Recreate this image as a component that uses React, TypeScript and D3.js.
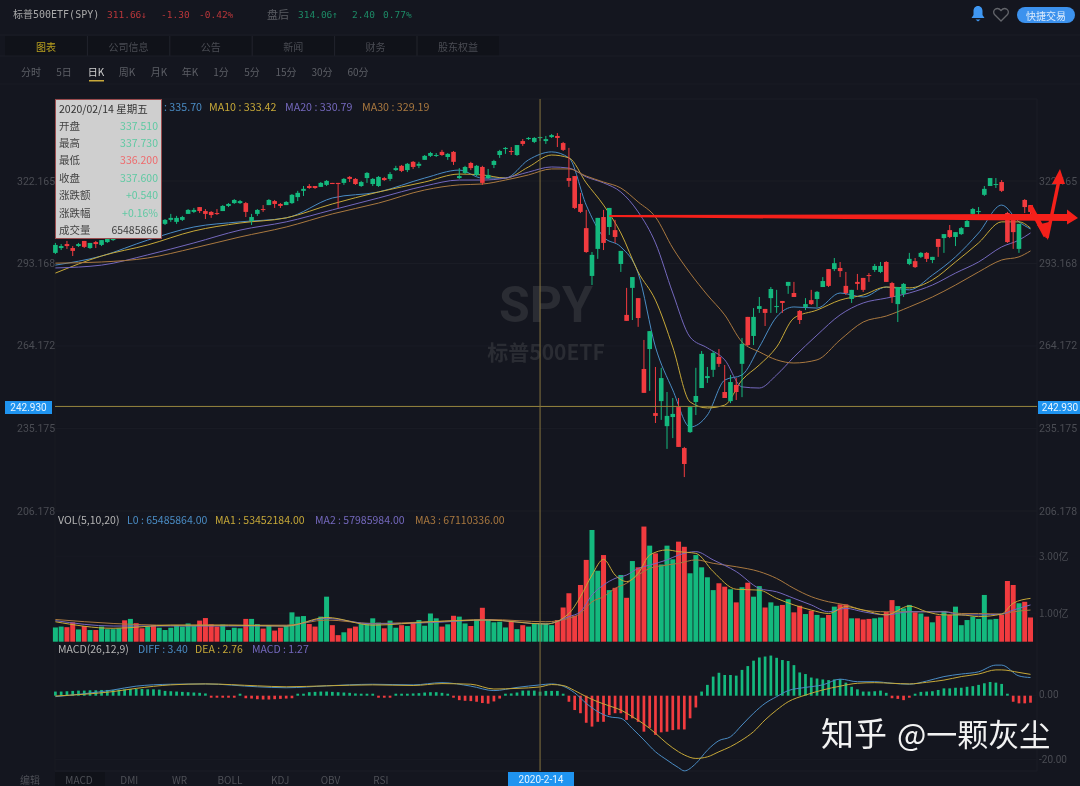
import * as d3 from 'd3';

const opens = [
  296.9,298.6,300.0,298.6,299.3,301.1,298.6,300.7,299.7,300.7,
  301.4,302.1,304.6,303.5,305.6,305.3,304.6,306.7,305.6,307.1,
  308.5,307.8,308.5,310.6,311.3,313.0,311.6,311.3,310.9,311.6,
  313.4,314.4,314.4,314.4,308.1,310.6,312.3,313.7,315.1,314.1,
  313.7,314.4,316.5,318.7,320.4,320.4,320.1,320.8,321.5,321.5,
  321.5,323.6,322.9,320.4,323.2,321.1,320.4,323.2,322.9,326.0,
  327.5,326.0,328.9,327.5,329.6,331.0,331.0,332.4,330.6,332.4,
  323.2,325.0,328.5,324.3,327.1,323.2,327.8,331.3,333.4,332.7,
  331.3,336.2,336.9,335.9,337.51,336.2,337.6,338.0,335.5,323.2,
  323.9,314.1,305.6,288.8,298.3,309.5,306.0,304.9,293.0,275.1,
  284.6,281.0,256.1,263.1,240.6,244.8,236.0,239.2,242.7,228.3,
  233.9,244.5,249.4,252.9,255.8,260.3,248.0,244.8,250.5,257.9,
  274.4,267.7,277.2,277.2,281.0,277.9,280.0,285.3,282.8,276.5,
  277.9,280.3,280.7,284.9,291.2,291.2,291.6,285.3,280.7,286.7,
  288.1,289.1,290.9,290.2,293.7,286.3,278.9,282.5,293.0,294.0,
  295.5,296.9,294.4,301.8,302.1,304.9,302.5,303.5,306.0,310.6,
  311.3,317.3,320.4,320.8,321.8,310.9,308.5,298.3,315.5,313.7,
];
const highs = [
  300.4,300.0,301.1,299.3,300.4,301.1,300.4,301.1,301.4,302.8,
  303.2,304.2,304.9,305.3,305.9,305.6,306.4,307.1,307.4,308.8,
  310.6,309.9,309.9,312.3,312.7,313.0,312.3,311.6,312.3,313.7,
  314.4,315.8,315.5,314.8,310.6,312.3,313.7,315.8,315.5,314.4,
  315.1,317.6,318.7,320.4,321.1,320.4,321.8,322.5,321.5,321.5,
  323.2,323.9,323.2,322.2,325.3,323.2,323.9,323.6,325.3,327.5,
  327.8,328.5,329.2,328.9,331.3,332.4,332.0,333.1,332.0,332.7,
  326.7,327.5,328.9,327.8,327.5,326.4,329.6,333.1,334.1,334.1,
  334.8,336.9,337.6,337.6,337.73,338.0,338.7,339.0,335.9,333.8,
  323.9,318.0,312.0,297.2,309.2,312.0,312.7,308.5,297.6,284.6,
  288.4,281.0,266.3,269.4,256.8,256.5,248.0,245.9,245.9,228.7,
  242.7,256.5,262.4,256.8,262.4,263.1,257.5,254.0,252.9,267.0,
  274.4,277.5,281.4,277.2,284.9,283.9,280.0,286.7,286.7,276.8,
  281.0,283.9,283.5,288.4,291.2,295.1,293.7,290.2,283.9,289.5,
  288.1,289.8,293.0,293.7,294.0,286.7,284.9,286.3,296.9,295.1,
  297.2,297.2,295.5,301.8,303.5,306.7,304.2,306.0,308.5,312.7,
  313.0,320.4,323.2,323.2,322.5,311.3,309.5,307.1,315.8,313.7,
];
const lows = [
  296.5,297.9,298.3,295.8,299.0,298.6,298.3,298.6,299.3,300.4,
  301.1,301.8,302.8,303.2,303.9,303.5,304.2,305.0,305.3,306.7,
  307.8,307.1,308.1,310.6,310.9,310.9,308.8,309.2,310.2,311.6,
  313.0,314.1,314.1,309.5,306.7,309.9,311.3,313.7,312.7,312.7,
  313.7,314.1,315.1,316.9,319.4,319.4,320.1,320.4,321.1,312.7,
  320.8,321.8,320.8,320.1,321.5,320.4,320.1,322.2,322.2,325.7,
  325.3,325.3,326.4,326.7,329.6,330.6,330.6,331.0,329.6,327.8,
  322.9,324.6,326.0,323.9,320.8,322.9,326.7,330.3,331.7,331.3,
  331.0,334.5,336.6,335.5,336.2,335.2,337.3,334.1,332.7,320.1,
  312.3,310.9,296.9,285.6,294.8,297.9,303.2,300.4,290.2,273.0,
  273.3,270.9,247.7,248.4,237.1,238.2,228.0,231.8,228.7,218.1,
  233.6,239.9,249.4,251.2,253.3,256.8,245.9,244.1,245.2,246.2,
  264.2,264.5,275.8,271.2,275.8,275.8,275.8,282.5,281.4,271.9,
  276.8,278.6,277.9,284.9,284.9,290.5,288.4,282.1,279.3,283.9,
  283.2,286.7,290.2,289.8,286.7,279.3,272.6,281.4,292.6,291.6,
  295.1,293.7,293.3,295.5,296.9,302.1,299.3,303.2,306.0,309.2,
  310.2,316.9,320.4,319.7,318.3,300.4,298.3,296.9,310.9,308.5,
];
const closes = [
  299.7,299.3,299.3,297.6,300.0,299.0,300.4,300.0,301.4,302.1,
  302.8,303.5,303.2,304.9,304.2,304.0,306.0,305.6,307.1,308.5,
  309.2,309.2,309.5,312.0,312.0,311.6,310.6,310.2,310.6,313.4,
  314.1,315.5,315.1,311.3,309.5,312.0,312.0,315.5,314.1,313.4,
  314.8,317.3,318.0,319.4,319.7,319.7,321.5,322.2,321.1,321.1,
  322.9,322.9,321.1,321.8,325.0,322.9,323.6,322.5,324.6,326.7,
  325.7,328.2,327.1,328.2,331.0,332.0,331.3,331.3,331.7,328.9,
  323.9,327.1,326.7,327.5,321.5,324.3,329.2,332.7,333.8,332.4,
  334.8,335.2,337.3,337.3,337.6,336.9,338.3,337.3,333.1,322.2,
  312.7,311.3,297.2,296.2,309.2,300.4,312.7,302.5,297.6,273.0,
  288.4,274.0,247.7,269.4,239.6,252.9,239.6,240.3,228.7,222.7,
  242.7,246.6,261.4,253.6,261.7,257.9,245.9,251.5,248.0,264.9,
  264.5,274.4,278.2,275.8,284.2,278.2,279.3,286.7,281.4,273.3,
  278.9,278.9,283.2,287.0,285.3,293.3,290.5,282.8,283.9,286.0,
  283.9,288.8,292.3,292.3,286.7,281.4,284.9,286.0,294.8,291.9,
  296.9,294.8,295.5,299.0,303.5,302.5,304.2,305.6,308.1,312.3,
  311.6,319.4,323.2,321.1,318.7,300.7,304.2,307.1,313.0,311.3,
];

// volume in 亿 shares
const volumes = [
  0.50,0.53,0.51,0.68,0.43,0.55,0.41,0.41,0.53,0.44,
  0.44,0.47,0.75,0.80,0.65,0.47,0.53,0.58,0.49,0.41,
  0.49,0.57,0.53,0.64,0.55,0.74,0.83,0.61,0.53,0.60,
  0.41,0.49,0.47,0.80,0.80,0.62,0.46,0.58,0.39,0.49,
  0.55,1.03,0.88,0.90,0.62,0.53,0.88,1.58,0.58,0.23,
  0.33,0.47,0.53,0.62,0.62,0.82,0.67,0.47,0.74,0.49,
  0.58,0.55,0.67,0.76,0.56,0.99,0.82,0.53,0.61,0.91,
  0.88,0.64,0.55,0.78,1.19,0.76,0.68,0.70,0.50,0.74,
  0.44,0.58,0.53,0.62,0.65,0.64,0.58,0.76,1.20,1.70,
  0.91,1.99,2.87,3.92,2.49,3.04,1.81,1.89,2.34,1.54,
  2.83,2.61,4.04,3.37,3.10,2.71,3.37,2.89,3.51,3.33,
  2.40,3.04,2.61,2.26,1.81,2.05,1.93,1.84,1.38,1.91,
  2.07,1.58,1.95,1.20,1.38,1.26,1.29,1.49,1.03,1.26,
  0.97,1.09,0.94,0.84,0.94,1.23,1.31,1.31,0.82,0.82,
  0.78,0.80,0.82,0.85,1.05,1.46,1.25,1.17,1.29,1.03,
  0.99,0.88,0.68,0.91,1.08,0.94,1.23,0.58,0.76,0.88,
  0.80,1.64,0.78,0.80,0.94,2.13,1.99,1.35,1.40,0.85,
];

const macdHist = [
  1.3,1.3,1.4,1.5,1.6,1.6,1.7,1.7,1.8,1.8,
  1.8,1.9,2.0,2.1,2.1,2.1,2.0,2.0,1.9,1.5,
  1.4,1.3,1.2,1.1,1.0,0.9,0.7,-0.3,-0.3,-0.3,
  -0.3,-0.2,0.3,-0.8,-0.9,-1.1,-1.2,-1.2,-1.1,-1.0,
  -0.9,-0.8,0.3,0.6,1.1,1.2,1.3,1.3,1.2,1.1,
  1.0,0.9,0.7,0.5,0.4,0.3,-0.3,-0.3,-0.4,0.3,
  0.4,0.6,0.7,0.8,1.0,1.1,1.1,0.9,0.5,-0.4,
  -1.4,-1.6,-1.7,-1.9,-2.3,-2.5,-1.8,-0.9,0.4,0.7,
  1.0,1.6,1.6,1.6,1.27,1.5,1.5,1.5,0.2,-1.9,
  -4.5,-5.5,-8.5,-9.7,-8.2,-8.2,-6.1,-5.5,-5.5,-7.6,
  -7.1,-8.2,-11.3,-10.1,-12.3,-11.5,-11.3,-10.8,-10.6,-10.6,
  -7.1,-3.7,1.3,3.4,6.0,7.2,6.5,6.5,6.3,8.1,
  9.3,11.0,12.0,12.3,12.6,11.9,11.2,10.9,9.6,7.3,
  6.8,5.7,5.4,5.1,4.9,5.1,5.2,4.1,2.8,2.0,
  1.3,1.3,1.4,1.6,0.9,-0.8,-1.0,-1.4,-0.3,0.5,
  1.2,1.3,1.4,1.8,2.3,2.3,2.5,2.5,2.8,3.0,
  3.4,3.9,4.3,4.1,3.7,0.4,-1.9,-2.4,-2.4,-2.2,
];

// moving averages read at these candle positions
const maIndex = [0,8,16,24,32,40,48,56,64,70,74,78,82,86,89,92,95,98,101,104,107,110,113,116,119,122,125,128,132,136,140,144,148,152,156,160,164,167,169];
const ma5 = [292.6,295.8,301.4,306.0,307.8,309.2,316.2,318.3,323.2,326.0,323.2,323.2,329.6,332.4,330.3,313.7,302.5,299.0,289.8,263.8,248.7,235.7,239.9,252.2,254.0,263.8,274.4,277.9,277.5,282.8,281.4,284.9,283.9,289.1,295.5,303.9,313.7,307.8,305.3];
const ma10 = [289.8,295.8,299.7,304.6,307.4,309.2,314.1,318.3,321.8,324.6,324.3,323.2,327.1,331.3,330.3,321.5,313.7,303.9,290.2,280.3,263.8,244.5,242.4,243.4,252.2,257.5,263.8,274.0,276.8,280.3,282.1,284.9,284.6,287.4,293.7,300.4,307.8,307.8,305.6];
const ma20 = [291.6,292.6,296.2,300.4,304.9,307.8,312.0,316.2,320.4,322.5,322.5,323.2,325.3,327.1,326.7,323.6,321.5,318.3,311.3,300.4,282.8,267.3,263.5,259.3,249.8,249.4,254.0,260.3,268.0,275.1,279.3,281.0,282.8,285.6,289.8,293.7,299.0,301.4,303.9];
const ma30 = [293.3,293.7,295.1,298.6,302.5,306.0,310.6,314.4,319.0,320.8,321.1,322.5,324.3,326.4,326.4,323.9,321.8,319.7,314.8,309.5,298.6,289.8,282.1,275.1,265.6,262.1,259.3,258.2,259.3,266.3,272.6,274.7,277.9,281.4,285.6,290.2,294.4,295.5,297.6];

const volMaIndex = [0,10,20,30,40,47,55,65,75,85,89,91,93,95,97,99,101,103,106,108,111,114,118,122,125,128,131,134,137,140,144,148,151,154,157,160,164,166,169];
const volMa1 = [0.70,0.47,0.58,0.58,0.55,0.85,0.58,0.70,0.76,0.62,0.99,1.58,2.34,2.89,2.34,2.11,2.40,3.04,3.22,3.16,3.10,2.46,1.84,1.81,1.52,1.29,1.11,0.99,1.23,1.11,0.94,1.25,1.05,0.94,0.94,0.88,0.97,1.35,1.52];
const volMa2 = [0.74,0.55,0.55,0.55,0.55,0.82,0.62,0.67,0.76,0.62,0.88,1.05,1.64,1.99,2.22,2.34,2.57,2.69,2.87,3.04,3.16,2.87,2.46,1.87,1.75,1.52,1.29,1.05,1.17,1.05,0.94,1.05,1.05,1.05,0.94,0.94,0.97,1.11,1.29];
const volMa3 = [0.78,0.64,0.58,0.58,0.58,0.76,0.64,0.70,0.78,0.70,0.82,0.99,1.40,1.58,1.87,2.05,2.34,2.57,2.69,2.75,2.87,2.75,2.63,2.46,2.22,1.87,1.58,1.40,1.29,1.11,1.05,1.05,1.05,1.05,0.99,0.99,0.97,1.05,1.11];

const macdIndex = [0,10,14,20,26,35,40,47,55,62,67,72,76,80,84,86,88,90,92,94,96,98,100,102,104,106,108,109,111,113,115,117,119,121,123,125,127,130,133,136,139,142,145,148,151,154,157,160,163,164,167,169];
const diff = [-0.3,1.8,3.0,3.6,3.7,2.8,2.5,3.1,3.6,3.4,4.1,3.0,1.6,2.6,3.4,3.7,3.0,0.9,-2.4,-5.0,-6.6,-7.1,-10.3,-13.9,-17.6,-20.2,-22.6,-23.6,-21.3,-17.1,-14.1,-12.9,-9.2,-5.5,-2.4,-0.3,1.6,2.6,3.4,5.2,4.4,4.4,3.9,3.6,4.6,6.0,6.8,7.5,9.6,9.6,6.2,5.7];
const dea = [-0.1,1.3,2.3,3.4,3.7,3.1,2.8,3.1,3.4,3.2,3.8,3.6,2.1,2.3,2.76,3.5,3.2,1.6,-0.3,-1.9,-3.2,-4.5,-6.6,-8.9,-11.8,-15.0,-17.6,-18.6,-19.7,-19.2,-17.6,-16.0,-13.9,-11.3,-7.6,-4.5,-1.9,0.2,1.8,3.0,3.9,4.1,3.9,3.7,4.2,4.9,6.0,6.8,8.1,8.1,7.3,6.7];

const priceTicks = [322.165, 293.168, 264.172, 235.175, 206.178];
const volTicks = [3, 1];
const macdTicks = [0, -20];
const crossIndex = 84;
const crossPrice = 242.93;
const crossDate = '2020-2-14';

const tabs = ['图表', '公司信息', '公告', '新闻', '财务', '股东权益'];
const periods = ['分时', '5日', '日K', '周K', '月K', '年K', '1分', '5分', '15分', '30分', '60分'];
const periodPos = [31, 64, 96, 127, 159, 190, 221, 252, 286, 322, 358];
const indicators = ['MACD', 'DMI', 'WR', 'BOLL', 'KDJ', 'OBV', 'RSI'];
const tipLabels = ['开盘', '最高', '最低', '收盘', '涨跌额', '涨跌幅', '成交量'];
const tipValues = ['337.510', '337.730', '336.200', '337.600', '+0.540', '+0.16%', '65485866'];
const tipColors = ['#5fc9a3', '#5fc9a3', '#ee6a6c', '#5fc9a3', '#5fc9a3', '#5fc9a3', '#3c3c3c'];

const BG = '#14161f';
const GREEN = '#14b97e';
const RED = '#f13b3f';
const BLUE = '#4a8cc4';
const YELLOW = '#c6a838';
const PURPLE = '#7468bd';
const ORANGE = '#a9783f';
const AXIS = '#4a4c53';
const FRAME = '#1b1d26';
const ARROW = '#f5201a';
const CJK = '"Noto Sans CJK SC", "Noto Sans", sans-serif';
const MONO = '"DejaVu Sans Mono", "Noto Sans CJK SC", monospace';

const x = d3.scaleLinear().domain([0, 169]).range([55.4, 1030.5]);
const yPrice = d3.scaleLinear().domain([322.165, 206.178]).range([181, 511]);
const yVol = d3.scaleLinear().domain([0, 3]).range([641.7, 556.2]);
const yMacd = d3.scaleLinear().domain([0, -20]).range([695.7, 759.4]);

function series(idx: number[], vals: number[], y: d3.ScaleLinear<number, number>) {
  const line = d3
    .line<number>()
    .x((_, k) => x(idx[k]))
    .y((v) => y(v))
    .curve(d3.curveMonotoneX);
  return line(vals) as string;
}

function Candles() {
  return (
    <g>
      {opens.map((o, i) => {
        const c = closes[i];
        const col = c >= o ? GREEN : RED;
        const top = yPrice(Math.max(o, c));
        const bot = yPrice(Math.min(o, c));
        return (
          <g key={i}>
            <line x1={x(i)} x2={x(i)} y1={yPrice(highs[i])} y2={yPrice(lows[i])} stroke={col} strokeWidth={1} />
            <rect x={x(i) - 2.3} y={top} width={4.6} height={Math.max(bot - top, 1)} fill={col} />
          </g>
        );
      })}
    </g>
  );
}

function Txt(props: any) {
  const { children, ...rest } = props;
  return (
    <text fontFamily={CJK} fontSize={10} dominantBaseline="central" {...rest}>
      {children}
    </text>
  );
}

export default function App() {
  document.body.style.margin = '0';
  document.body.style.background = BG;
  const priceLines = [
    { v: ma5, c: BLUE },
    { v: ma10, c: YELLOW },
    { v: ma20, c: PURPLE },
    { v: ma30, c: ORANGE },
  ];
  const volLines = [
    { v: volMa3, c: ORANGE },
    { v: volMa2, c: PURPLE },
    { v: volMa1, c: YELLOW },
  ];
  const crossY = yPrice(crossPrice);
  const crossX = x(crossIndex);
  const arrowY = yPrice(309.9);

  return (
    <svg width={1080} height={786} style={{ display: 'block', filter: 'blur(0.4px)' }}>
      <rect width={1080} height={786} fill={BG} />

      {/* header */}
      <Txt x={13} y={14} fill="#a8a8a8" fontFamily={MONO} fontSize={10}>标普500ETF(SPY)</Txt>
      <Txt x={107} y={14} fill="#b8363a" fontFamily={MONO} fontSize={9.5}>311.66↓</Txt>
      <Txt x={161} y={14} fill="#b8363a" fontFamily={MONO} fontSize={9.5}>-1.30</Txt>
      <Txt x={199} y={14} fill="#b8363a" fontFamily={MONO} fontSize={9.5}>-0.42%</Txt>
      <Txt x={267} y={14} fill="#5b5d63" fontSize={11}>盘后</Txt>
      <Txt x={298} y={14} fill="#1d8a66" fontFamily={MONO} fontSize={9.5}>314.06↑</Txt>
      <Txt x={352} y={14} fill="#1d8a66" fontFamily={MONO} fontSize={9.5}>2.40</Txt>
      <Txt x={383} y={14} fill="#1d8a66" fontFamily={MONO} fontSize={9.5}>0.77%</Txt>

      <path d="M978 6c-3 0-4.500 2.500-4.500 5v4l-2 3h13l-2-3v-4c0-2.500-1.500-5-4.500-5zM975.500 19.500h5l-2.500 2z" fill="#3f97f2" />
      <path d="M1001 21l-6.500-6.500c-3-4 2.500-8.500 6.500-4 4-4.500 9.500 0 6.500 4z" fill="none" stroke="#63656b" strokeWidth={1.3} />
      <rect x={1017} y={7} width={58} height={16} rx={8} fill="#3c92ee" />
      <Txt x={1046} y={15} fill="#dcebfb" textAnchor="middle" fontSize={10}>快捷交易</Txt>

      {/* tab rows */}
      <line x1={0} x2={1080} y1={35} y2={35} stroke="#1a1c26" />
      <rect x={5} y={36} width={494} height={20} fill="#101219" />
      {tabs.map((t, i) => (
        <g key={t}>
          <Txt x={46 + i * 82.4} y={46} textAnchor="middle" fill={i === 0 ? '#b9a01f' : '#4a4c53'}>{t}</Txt>
          {i > 0 && <line x1={5 + i * 82.4} x2={5 + i * 82.4} y1={36} y2={56} stroke="#22242d" />}
        </g>
      ))}
      <line x1={0} x2={1080} y1={56} y2={56} stroke="#1a1c26" />
      {periods.map((p, i) => (
        <Txt key={p} x={periodPos[i]} y={71} textAnchor="middle" fill={i === 2 ? '#d0d0d0' : '#5d5f66'}>{p}</Txt>
      ))}
      <rect x={89} y={80} width={15} height={1.5} fill="#c9a93a" />
      <line x1={0} x2={1080} y1={84} y2={84} stroke="#191b24" />

      {/* frame */}
      <line x1={55} x2={1037} y1={99} y2={99} stroke={FRAME} />
      <line x1={1037} x2={1037} y1={99} y2={771} stroke={FRAME} />
      <line x1={55} x2={1037} y1={771} y2={771} stroke={FRAME} />
      <line x1={55} x2={55} y1={99} y2={771} stroke="#181a22" />
      {priceTicks.map((t) => (
        <line key={t} x1={55} x2={1037} y1={yPrice(t)} y2={yPrice(t)} stroke="#1a1c25" />
      ))}
      {volTicks.map((t) => (
        <line key={t} x1={55} x2={1037} y1={yVol(t)} y2={yVol(t)} stroke="#181a23" />
      ))}
      {macdTicks.map((t) => (
        <line key={t} x1={55} x2={1037} y1={yMacd(t)} y2={yMacd(t)} stroke="#181a23" />
      ))}

      {/* watermark */}
      <text x={546} y={322} textAnchor="middle" fontFamily="Roboto, sans-serif" fontWeight={700} fontSize={50} fill="#2a2c33">SPY</text>
      <text x={546} y={360} textAnchor="middle" fontFamily={CJK} fontWeight={700} fontSize={21} fill="#2a2c33">标普500ETF</text>

      {/* axis labels */}
      {priceTicks.map((t) => (
        <g key={t}>
          <Txt x={17} y={yPrice(t)} fill={AXIS} fontSize={10.5} fontFamily="Roboto, sans-serif">{t.toFixed(3)}</Txt>
          <Txt x={1039} y={yPrice(t)} fill={AXIS} fontSize={10.5} fontFamily="Roboto, sans-serif">{t.toFixed(3)}</Txt>
        </g>
      ))}
      {volTicks.map((t) => (
        <Txt key={t} x={1039} y={yVol(t) - 1} fill={AXIS} fontSize={10}>{t.toFixed(2)}亿</Txt>
      ))}
      {macdTicks.map((t) => (
        <Txt key={t} x={1039} y={yMacd(t) + (t === 0 ? -1.5 : 0.5)} fill={AXIS} fontSize={10} fontFamily="Roboto, sans-serif">{t.toFixed(2)}</Txt>
      ))}

      {/* candles and moving averages */}
      {priceLines.map((l) => (
        <path key={l.c} d={series(maIndex, l.v, yPrice)} fill="none" stroke={l.c} strokeWidth={1} />
      ))}
      <Candles />

      {/* volume */}
      {volumes.map((v, i) => (
        <rect key={i} x={x(i) - 2.5} y={yVol(v)} width={5} height={yVol(0) - yVol(v)} fill={closes[i] >= opens[i] ? GREEN : RED} />
      ))}
      {volLines.map((l) => (
        <path key={l.c} d={series(volMaIndex, l.v, yVol)} fill="none" stroke={l.c} strokeWidth={1} />
      ))}

      {/* macd */}
      {macdHist.map((v, i) => {
        const h = Math.max(Math.abs(yMacd(v) - yMacd(0)), 2);
        return (
          <rect
            key={i}
            x={x(i) - 1.35}
            y={v >= 0 ? yMacd(0) - h : yMacd(0)}
            width={2.7}
            height={h}
            fill={v >= 0 ? GREEN : RED}
          />
        );
      })}
      <path d={series(macdIndex, diff, yMacd)} fill="none" stroke={BLUE} strokeWidth={1} />
      <path d={series(macdIndex, dea, yMacd)} fill="none" stroke={YELLOW} strokeWidth={1} />

      {/* crosshair */}
      <line x1={55} x2={1037} y1={crossY} y2={crossY} stroke="#98873f" />
      <line x1={crossX} x2={crossX} y1={99} y2={771} stroke="#85733f" />
      <rect x={5} y={401} width={47} height={13} fill="#1f94f0" />
      <Txt x={28.5} y={407.500} textAnchor="middle" fill="#e6f3fd" fontFamily="Roboto, sans-serif">{crossPrice.toFixed(3)}</Txt>
      <rect x={1038} y={401} width={42} height={13} fill="#1f94f0" />
      <Txt x={1060} y={407.500} textAnchor="middle" fill="#e6f3fd" fontFamily="Roboto, sans-serif">{crossPrice.toFixed(3)}</Txt>
      <rect x={508} y={772} width={66} height={14} fill="#1f94f0" />
      <Txt x={541} y={779} textAnchor="middle" fill="#e6f3fd" fontFamily="Roboto, sans-serif">{crossDate}</Txt>

      {/* legends; the MA5 name sits behind the tooltip in the picture */}
      <Txt x={164} y={106} fill={BLUE} fontSize={10.7}>: 335.70</Txt>
      <Txt x={209} y={106} fill={YELLOW} fontSize={10.7}>MA10 : 333.42</Txt>
      <Txt x={285} y={106} fill={PURPLE} fontSize={10.7}>MA20 : 330.79</Txt>
      <Txt x={362} y={106} fill={ORANGE} fontSize={10.7}>MA30 : 329.19</Txt>

      <Txt x={58} y={519} fill="#b4b4b4" fontSize={10.5}>VOL(5,10,20)</Txt>
      <Txt x={127} y={519} fill={BLUE} fontSize={10.5}>L0 : 65485864.00</Txt>
      <Txt x={215} y={519} fill={YELLOW} fontSize={10.5}>MA1 : 53452184.00</Txt>
      <Txt x={315} y={519} fill={PURPLE} fontSize={10.5}>MA2 : 57985984.00</Txt>
      <Txt x={415} y={519} fill={ORANGE} fontSize={10.5}>MA3 : 67110336.00</Txt>

      <Txt x={58} y={648} fill="#b4b4b4" fontSize={10.5}>MACD(26,12,9)</Txt>
      <Txt x={138} y={648} fill={BLUE} fontSize={10.5}>DIFF : 3.40</Txt>
      <Txt x={195} y={648} fill={YELLOW} fontSize={10.5}>DEA : 2.76</Txt>
      <Txt x={252} y={648} fill={PURPLE} fontSize={10.5}>MACD : 1.27</Txt>

      {/* tooltip */}
      <rect x={55.500} y={99.500} width={106} height={139} fill="#cfcfcf" stroke="#9a4b4d" />
      <Txt x={59} y={108} fill="#333" fontSize={10.5}>2020/02/14 星期五</Txt>
      {tipLabels.map((t, i) => (
        <g key={t}>
          <Txt x={59} y={125 + i * 17.4} fill="#444" fontSize={10.5}>{t}</Txt>
          <Txt x={158} y={125 + i * 17.4} fill={tipColors[i]} textAnchor="end" fontSize={10.5}>{tipValues[i]}</Txt>
        </g>
      ))}

      {/* bottom tabs */}
      <Txt x={30} y={779.500} textAnchor="middle" fill="#4e5057">编辑</Txt>
      <rect x={55} y={772} width={50} height={14} fill="#101219" />
      {indicators.map((t, i) => (
        <Txt key={t} x={79 + i * 50.300} y={779.500} textAnchor="middle" fill="#4e5057">{t}</Txt>
      ))}

      {/* hand drawn arrows */}
      <polygon
        points={`${x(96)},${arrowY - 0.8} 1067,${arrowY - 2} 1067,${arrowY - 6.500} 1078,${arrowY + 2} 1067,${arrowY + 8.500} 1067,${arrowY + 5} ${x(96)},${arrowY + 1.200}`}
        fill={ARROW}
      />
      <path d="M1030 206L1046 236" stroke={ARROW} strokeWidth={5} fill="none" />
      <polygon points="1048,240 1037,225 1049,222" fill={ARROW} />
      <path d="M1047 238L1059 180" stroke={ARROW} strokeWidth={3.500} fill="none" />
      <polygon points="1060,169 1052,184 1065,184" fill={ARROW} />

      {/* site mark */}
      <text x={821} y={746} fontFamily={CJK} fontSize={33} fill="#f2f2f2">知乎</text>
      <text x={897} y={746} fontFamily={CJK} fontSize={31} fill="#f2f2f2">@一颗灰尘</text>
    </svg>
  );
}
